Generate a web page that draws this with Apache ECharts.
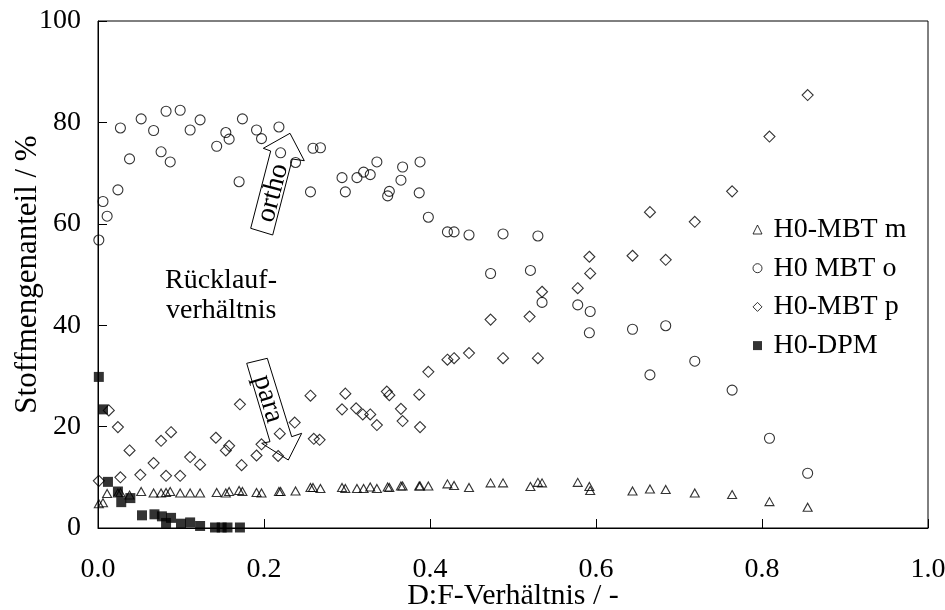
<!DOCTYPE html>
<html>
<head>
<meta charset="utf-8">
<script src="https://cdn.jsdelivr.net/npm/echarts@6/dist/echarts.min.js"></script>
<style>
html,body{margin:0;padding:0;background:#fff;}
#chart{width:945px;height:610px;}
</style>
</head>
<body>
<div id="chart"></div>
<script>
// ---- data ----
const seriesNames = ['H0-MBT m', 'H0 MBT o', 'H0-MBT p', 'H0-DPM'];
const xTicks = [0.0, 0.2, 0.4, 0.6, 0.8, 1.0];
const yTicks = [0, 20, 40, 60, 80, 100];

const metaData = [[0.001,4.8],[0.006,5.0],[0.011,6.8],[0.024,6.9],[0.027,7.0],[0.038,6.5],[0.052,7.2],[0.067,6.9],[0.076,6.9],[0.082,7.0],[0.087,7.2],[0.099,6.9],[0.111,6.9],[0.123,6.9],[0.143,7.0],[0.154,6.9],[0.158,7.2],[0.170,7.4],[0.174,7.2],[0.191,7.0],[0.197,6.9],[0.218,7.2],[0.220,7.2],[0.238,7.3],[0.256,8.0],[0.259,8.0],[0.268,7.8],[0.294,8.0],[0.298,7.8],[0.312,7.8],[0.320,7.8],[0.328,8.1],[0.336,7.8],[0.349,8.1],[0.351,8.0],[0.365,8.3],[0.367,8.3],[0.387,8.3],[0.388,8.3],[0.398,8.3],[0.421,8.7],[0.429,8.4],[0.447,8.0],[0.473,8.9],[0.488,8.9],[0.521,8.2],[0.530,9.0],[0.535,8.9],[0.578,9.0],[0.592,8.2],[0.593,7.4],[0.644,7.3],[0.665,7.7],[0.684,7.6],[0.719,6.9],[0.764,6.6],[0.809,5.2],[0.855,4.1]];

const orthoData = [[0.001,56.8],[0.006,64.4],[0.011,61.5],[0.024,66.7],[0.027,78.9],[0.038,72.8],[0.052,80.7],[0.067,78.4],[0.076,74.2],[0.082,82.2],[0.087,72.2],[0.099,82.4],[0.111,78.5],[0.123,80.5],[0.143,75.3],[0.154,78.0],[0.158,76.7],[0.170,68.3],[0.174,80.7],[0.191,78.5],[0.197,76.8],[0.218,79.1],[0.220,74.0],[0.238,72.1],[0.256,66.3],[0.259,74.9],[0.268,75.0],[0.294,69.1],[0.298,66.3],[0.312,69.1],[0.320,70.2],[0.328,69.7],[0.336,72.2],[0.349,65.5],[0.351,66.4],[0.365,68.6],[0.367,71.2],[0.387,66.1],[0.388,72.2],[0.398,61.3],[0.421,58.4],[0.429,58.4],[0.447,57.8],[0.473,50.2],[0.488,58.0],[0.521,50.8],[0.530,57.6],[0.535,44.5],[0.578,44.0],[0.592,38.5],[0.593,42.7],[0.644,39.2],[0.665,30.2],[0.684,39.9],[0.719,32.9],[0.764,27.2],[0.809,17.7],[0.855,10.8]];

const paraData = [[0.001,9.3],[0.013,23.2],[0.024,19.9],[0.027,10.0],[0.038,15.3],[0.051,10.5],[0.067,12.8],[0.076,17.2],[0.082,10.3],[0.088,18.9],[0.099,10.3],[0.111,14.0],[0.123,12.5],[0.142,17.8],[0.154,15.3],[0.158,16.2],[0.171,24.4],[0.173,12.4],[0.191,14.3],[0.197,16.5],[0.217,14.2],[0.219,18.6],[0.237,20.8],[0.256,26.1],[0.260,17.6],[0.267,17.4],[0.294,23.4],[0.298,26.5],[0.311,23.6],[0.319,22.4],[0.328,22.4],[0.336,20.3],[0.348,26.9],[0.351,26.2],[0.365,23.5],[0.367,21.1],[0.387,26.3],[0.388,19.9],[0.398,30.8],[0.421,33.2],[0.429,33.5],[0.447,34.5],[0.473,41.1],[0.488,33.5],[0.520,41.7],[0.530,33.5],[0.535,46.6],[0.578,47.3],[0.592,53.5],[0.593,50.2],[0.644,53.7],[0.665,62.3],[0.684,52.9],[0.719,60.4],[0.764,66.4],[0.809,77.2],[0.855,85.4]];

const dpmData = [[0.001,29.8],[0.006,23.4],[0.012,9.1],[0.024,7.2],[0.028,5.1],[0.039,5.9],[0.053,2.5],[0.068,2.7],[0.077,2.3],[0.082,1.0],[0.088,2.0],[0.100,0.85],[0.111,1.1],[0.123,0.4],[0.141,0.1],[0.149,0.1],[0.156,0.1],[0.171,0.1]];

// ---- styling ----
const FONT = 'Liberation Serif';
const FS = 28;
const hollow = {color: 'rgba(255,255,255,0)', borderColor: '#000', borderWidth: 1.1};
const hollowLegend = {color: 'rgba(255,255,255,0)', borderColor: '#000', borderWidth: 1};

const chart = echarts.init(document.getElementById('chart'), null, {renderer: 'canvas'});

const axisCommon = {
  type: 'value',
  axisLine: {show: true, lineStyle: {color: '#000', width: 1}},
  axisTick: {show: true, inside: true, length: 9, lineStyle: {color: '#000', width: 1}},
  splitLine: {show: false},
  nameLocation: 'middle',
  nameMoveOverlap: false
};

const option = {
  animation: false,
  backgroundColor: '#fff',
  grid: {left: 98, right: 17, top: 21, bottom: 82, show: true, borderColor: '#000', borderWidth: 1, outerBoundsMode: 'none'},
  xAxis: Object.assign({}, axisCommon, {
    min: xTicks[0], max: xTicks[xTicks.length - 1], interval: 0.2,
    name: 'D:F-Verhältnis / -', nameGap: 53,
    nameTextStyle: {fontFamily: FONT, fontSize: 30, color: '#000'},
    axisLabel: {fontFamily: FONT, fontSize: FS, color: '#000', margin: 28, formatter: v => v.toFixed(1)}
  }),
  yAxis: Object.assign({}, axisCommon, {
    min: yTicks[0], max: yTicks[yTicks.length - 1], interval: 20,
    name: 'Stoffmengenanteil / %', nameGap: 55, nameRotate: 90,
    nameTextStyle: {fontFamily: FONT, fontSize: 31, color: '#000'},
    axisLabel: {fontFamily: FONT, fontSize: FS, color: '#000', margin: 17}
  }),
  legend: {
    orient: 'vertical',
    left: 747.5, top: 210.5,
    itemWidth: 9, itemHeight: 9, itemGap: 10.7,
    textStyle: {fontFamily: FONT, fontSize: FS, color: '#000', lineHeight: 28, padding: [0, 0, 0, 6.5]},
    data: [
      {name: seriesNames[0], icon: 'triangle', itemStyle: hollowLegend},
      {name: seriesNames[1], icon: 'circle', itemStyle: hollowLegend},
      {name: seriesNames[2], icon: 'diamond', itemStyle: hollowLegend},
      {name: seriesNames[3], icon: 'rect', itemStyle: {color: '#000', borderWidth: 0}}
    ]
  },
  graphic: [
    {type: 'text', left: 165, top: 267, style: {text: 'Rücklauf-', font: FS + 'px "' + FONT + '"', fill: '#000'}},
    {type: 'text', left: 166, top: 297, style: {text: 'verhältnis', font: FS + 'px "' + FONT + '"', fill: '#000'}},
    {type: 'polygon', shape: {points: [[250.7,228.3],[270.7,151],[263.3,148.3],[290,133.3],[304.3,160.7],[292.3,159],[272.7,235]]}, style: {fill: 'none', stroke: '#000', lineWidth: 1}},
    {type: 'text', x: 273, y: 193, rotation: 1.316, style: {text: 'ortho', font: FS + 'px "' + FONT + '"', fill: '#000', align: 'center', verticalAlign: 'middle'}},
    {type: 'polygon', shape: {points: [[246.7,363.3],[267.3,358.3],[291.7,436.7],[301.7,433.3],[288.3,460],[261.7,443.3],[270,441.7]]}, style: {fill: 'none', stroke: '#000', lineWidth: 1}},
    {type: 'text', x: 268, y: 399, rotation: -1.276, style: {text: 'para', font: FS + 'px "' + FONT + '"', fill: '#000', align: 'center', verticalAlign: 'middle'}}
  ],
  series: [
    {name: seriesNames[0], type: 'scatter', data: metaData, symbol: 'triangle', symbolSize: [9, 8], itemStyle: hollow},
    {name: seriesNames[1], type: 'scatter', data: orthoData, symbol: 'circle', symbolSize: 10, itemStyle: hollow},
    {name: seriesNames[2], type: 'scatter', data: paraData, symbol: 'diamond', symbolSize: 11, itemStyle: hollow},
    {name: seriesNames[3], type: 'scatter', data: dpmData, symbol: 'rect', symbolSize: 10, itemStyle: {color: '#000'}}
  ]
};
chart.setOption(option);
</script>
</body>
</html>
